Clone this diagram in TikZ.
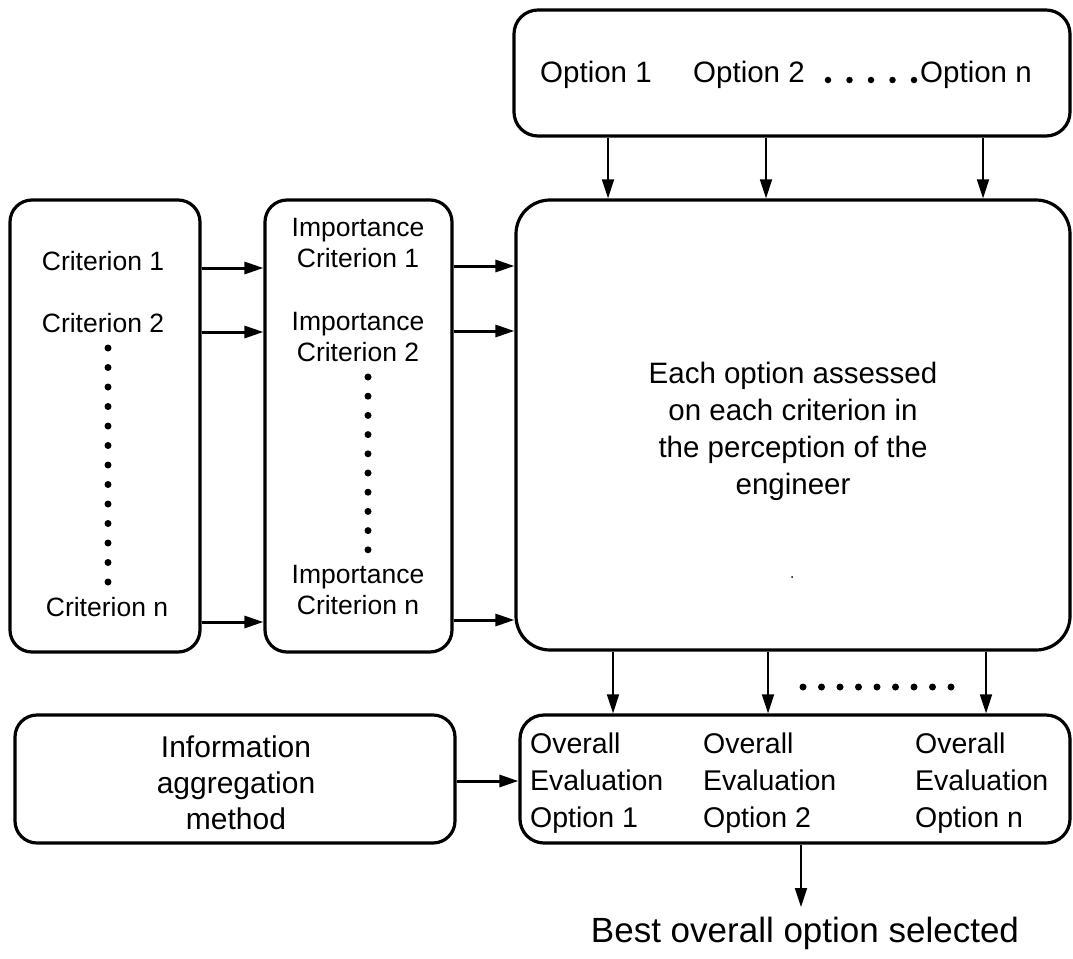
\documentclass[tikz,border=0pt]{standalone}
\usepackage{fontspec}
\setmainfont{Liberation Sans}
\usetikzlibrary{arrows.meta}
\begin{document}
\begin{tikzpicture}[x=1pt,y=-1pt,
  box/.style={draw, line width=3.2pt, rounded corners=22pt, inner sep=0pt},
  txt/.style={inner sep=0pt, font=\fontsize{26.5}{31}\selectfont, align=center},
  opt/.style={inner sep=0pt, font=\fontsize{29.5}{31}\selectfont, anchor=west},
  evtxt/.style={inner sep=0pt, font=\fontsize{28.5}{37}\selectfont, align=left, anchor=west},
  harrow/.style={line width=3pt, -{Triangle[length=19pt,width=12pt]}},
  varrow/.style={line width=1.8pt, -{Triangle[length=19pt,width=12pt]}},
  bigdot/.style={circle, fill, inner sep=0pt, minimum size=7pt},
  smalldot/.style={circle, fill, inner sep=0pt, minimum size=6.5pt}]
\useasboundingbox (0,0) rectangle (1073,958);

% boxes
\node[box, minimum width=556pt, minimum height=126pt, rounded corners=24pt] (top) at (792,73) {};
\node[box, minimum width=190pt, minimum height=452pt] (crit) at (105,426) {};
\node[box, minimum width=187pt, minimum height=452pt] (imp) at (358.5,426) {};
\node[box, minimum width=554pt, minimum height=450pt, rounded corners=34pt] (main) at (793,425) {};
\node[box, minimum width=440pt, minimum height=128pt] (info) at (235,779) {};
\node[box, minimum width=550pt, minimum height=128pt, rounded corners=24pt] (eval) at (795,779) {};

% option row
\node[opt] (o1) at (540,75) {Option 1};
\node[opt] (o2) at (693,75) {Option 2};
\foreach \i in {0,...,4} \node[smalldot] (od\i) at (828+21.5*\i,80) {};
\node[opt] (on) at (920,75) {Option n};

% criteria
\node[txt] (c1) at (103,261) {Criterion 1};
\node[txt] (c2) at (103,323) {Criterion 2};
\foreach \i in {0,...,12} \node[bigdot] (cd\i) at (108,348+19.5*\i) {};
\node[txt] (cn) at (107,607) {Criterion n};

% importance of criteria
\node[txt] (i1) at (358,243) {Importance\\Criterion 1};
\node[txt] (i2) at (358,337) {Importance\\Criterion 2};
\foreach \i in {0,...,9} \node[bigdot] (id\i) at (368,377+19.2*\i) {};
\node[txt] (in) at (358,590) {Importance\\Criterion n};

% assessment
\node[txt, font=\fontsize{29.5}{37}\selectfont] (assess) at (793,431)
  {Each option assessed\\on each criterion in\\the perception of the\\engineer};
\node[circle, fill, inner sep=0pt, minimum size=2pt] (speck) at (792,577) {};

% aggregation and evaluation
\node[txt, font=\fontsize{30}{36}\selectfont] (agg) at (236,783) {Information\\aggregation\\method};
\node[evtxt] (e1) at (530,783) {Overall\\Evaluation\\Option 1};
\node[evtxt] (e2) at (703,783) {Overall\\Evaluation\\Option 2};
\node[evtxt] (en) at (915,783) {Overall\\Evaluation\\Option n};
\foreach \i in {0,...,8} \node[bigdot] (ed\i) at (803+18.5*\i,687) {};

% result
\node[inner sep=0pt, font=\fontsize{35}{42}\selectfont] (best) at (805,933) {Best overall option selected};
\coordinate (bestin) at (801,907);

% connectors
\foreach \x in {608,766,983}
  \draw[varrow] (top.south -| \x,0) -- (main.north -| \x,0);
\foreach \y in {268,332,622}
  \draw[harrow] (crit.east |- 0,\y) -- (imp.west |- 0,\y);
\foreach \y in {266,331,620}
  \draw[harrow] (imp.east |- 0,\y) -- (main.west |- 0,\y);
\foreach \x in {613,768,986}
  \draw[varrow] (main.south -| \x,0) -- (eval.north -| \x,0);
\draw[harrow] (info.east |- 0,781) -- (eval.west |- 0,781);
\draw[varrow] (eval.south -| 801,0) -- (bestin);
\end{tikzpicture}
\end{document}
